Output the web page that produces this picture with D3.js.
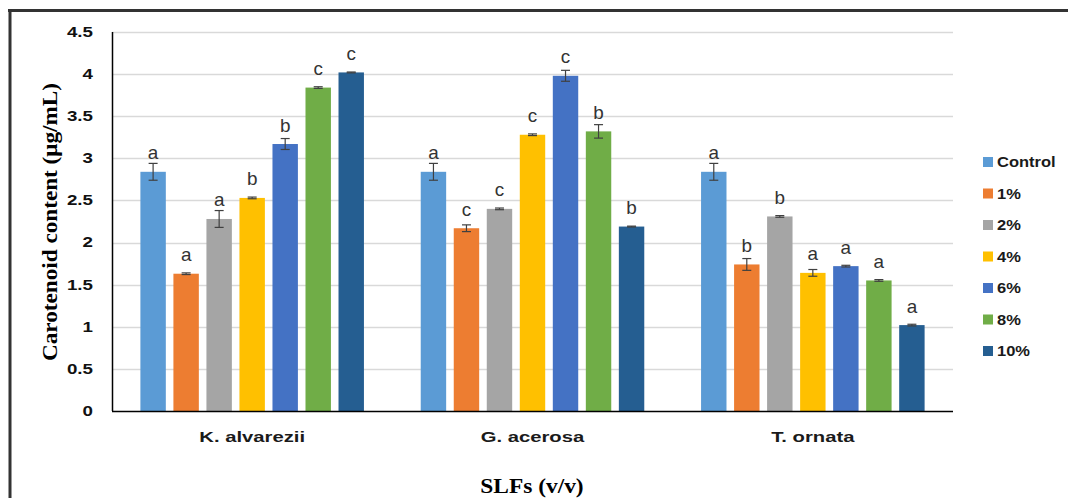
<!DOCTYPE html>
<html>
<head>
<meta charset="utf-8">
<script src="https://cdn.jsdelivr.net/npm/d3@7"></script>
<style>
  html, body { margin: 0; padding: 0; background: #fff; }
  svg { display: block; }
</style>
</head>
<body>
<svg id="chart" width="1068" height="498"></svg>
<script>
// Carotenoid content of three seaweeds under different SLF concentrations
const species = ["K. alvarezii", "G. acerosa", "T. ornata"];
const treatments = ["Control", "1%", "2%", "4%", "6%", "8%", "10%"];
const colors = ["#5B9BD5", "#ED7D31", "#A5A5A5", "#FFC000", "#4472C4", "#70AD47", "#255E91"];

const valuesKA = [2.84, 1.63, 2.28, 2.53, 3.17, 3.84, 4.02];
const valuesGA = [2.84, 2.17, 2.40, 3.28, 3.98, 3.32, 2.19];
const valuesTO = [2.84, 1.74, 2.31, 1.64, 1.72, 1.55, 1.02];

const errorsKA = [0.10, 0.01, 0.10, 0.01, 0.065, 0.01, 0.005];
const errorsGA = [0.10, 0.04, 0.01, 0.01, 0.065, 0.08, 0.005];
const errorsTO = [0.10, 0.07, 0.01, 0.04, 0.01, 0.01, 0.01];

const lettersKA = ["a", "a", "a", "b", "b", "c", "c"];
const lettersGA = ["a", "c", "c", "c", "c", "b", "b"];
const lettersTO = ["a", "b", "b", "a", "a", "a", "a"];

const yTicks = [0, 0.5, 1, 1.5, 2, 2.5, 3, 3.5, 4, 4.5];

const rows = [
  { name: species[0], values: valuesKA, errors: errorsKA, letters: lettersKA },
  { name: species[1], values: valuesGA, errors: errorsGA, letters: lettersGA },
  { name: species[2], values: valuesTO, errors: errorsTO, letters: lettersTO }
];

const svg = d3.select("#chart");
const plot = { left: 112, right: 953, top: 32, bottom: 411 };

const x0 = d3.scaleBand().domain(species).range([plot.left, plot.right]).padding(0);
const x1 = d3.scaleBand().domain(treatments).range([0, x0.bandwidth()])
  .paddingInner(0.23).paddingOuter(0.86);
const y = d3.scaleLinear().domain([0, 4.5]).range([plot.bottom, plot.top]);
const color = d3.scaleOrdinal().domain(treatments).range(colors);

// stretched text helper (fonts in this figure are drawn wide)
function label(parent, x, yPos, txt, opts) {
  const sx = opts.sx || 1;
  const rot = opts.rotate ? ` rotate(${opts.rotate})` : "";
  return parent.append("text")
    .attr("transform", `translate(${x},${yPos})${rot} scale(${sx},1)`)
    .attr("text-anchor", opts.anchor || "middle")
    .attr("dominant-baseline", opts.baseline || "auto")
    .style("font-family", opts.family || "Liberation Sans, Arial, sans-serif")
    .style("font-size", opts.size + "px")
    .style("font-weight", opts.weight || "normal")
    .style("fill", opts.fill || "#000")
    .text(txt);
}

// outer frame (top and left edges)
svg.append("line").attr("x1", 8).attr("x2", 1068).attr("y1", 10.5).attr("y2", 10.5)
  .attr("stroke", "#333").attr("stroke-width", 3);
svg.append("line").attr("x1", 10).attr("x2", 10).attr("y1", 9).attr("y2", 498)
  .attr("stroke", "#333").attr("stroke-width", 3);

// gridlines
svg.append("g").selectAll("line").data(yTicks.filter(d => d > 0)).join("line")
  .attr("x1", plot.left).attr("x2", plot.right)
  .attr("y1", d => Math.round(y(d)) + 0.5).attr("y2", d => Math.round(y(d)) + 0.5)
  .attr("stroke", "#d9d9d9").attr("stroke-width", 1.3);

// y tick labels
const yAxisG = svg.append("g");
yTicks.forEach(t => {
  label(yAxisG, 93, y(t), d3.format("")(t), { size: 15, weight: "bold", anchor: "end", baseline: "central", sx: 1.25, fill: "#111" });
});

// bars, error bars and significance letters
const groups = svg.append("g").selectAll("g").data(rows).join("g")
  .attr("transform", d => `translate(${x0(d.name)},0)`);

groups.each(function (row) {
  const g = d3.select(this);
  treatments.forEach((t, i) => {
    const v = row.values[i], e = row.errors[i];
    const bx = x1(t), bw = x1.bandwidth(), cx = bx + bw / 2;
    g.append("rect").attr("x", bx).attr("y", y(v)).attr("width", bw).attr("height", y(0) - y(v))
      .attr("fill", color(t));
    g.append("line").attr("x1", cx).attr("x2", cx).attr("y1", y(v + e)).attr("y2", y(v - e))
      .attr("stroke", "#404040").attr("stroke-width", 1.2);
    [v + e, v - e].forEach(w => {
      g.append("line").attr("x1", cx - 4.5).attr("x2", cx + 4.5).attr("y1", y(w)).attr("y2", y(w))
        .attr("stroke", "#404040").attr("stroke-width", 1.2);
    });
    label(g, cx, y(v) - 12.5, row.letters[i], { size: 18, fill: "#333", sx: 1.05 });
  });
});

// axis lines
svg.append("line").attr("x1", plot.left + 0.5).attr("x2", plot.left + 0.5)
  .attr("y1", plot.top).attr("y2", plot.bottom).attr("stroke", "#000").attr("stroke-width", 1.5);
svg.append("line").attr("x1", plot.left).attr("x2", plot.right)
  .attr("y1", plot.bottom + 0.5).attr("y2", plot.bottom + 0.5).attr("stroke", "#000").attr("stroke-width", 1.5);

// category labels
species.forEach(s => {
  label(svg, x0(s) + x0.bandwidth() / 2, 442, s, { size: 15, weight: "bold", sx: 1.35, fill: "#1a1a1a" });
});

// axis titles
label(svg, 532, 492.5, "SLFs (v/v)", { size: 20, weight: "bold", family: "Liberation Serif, 'Times New Roman', serif", sx: 1.17 });
label(svg, 57, 222, "Carotenoid content (μg/mL)", { size: 20, weight: "bold", family: "Liberation Serif, 'Times New Roman', serif", sx: 1.16, rotate: -90 });

// legend
const legend = svg.append("g");
treatments.forEach((t, i) => {
  const cy = 162 + i * 31.5;
  legend.append("rect").attr("x", 983).attr("y", cy - 5).attr("width", 10).attr("height", 10).attr("fill", color(t));
  label(legend, 997, cy, t, { size: 15, weight: "bold", anchor: "start", baseline: "central", sx: 1.1, fill: "#1a1a1a" });
});
</script>
</body>
</html>
